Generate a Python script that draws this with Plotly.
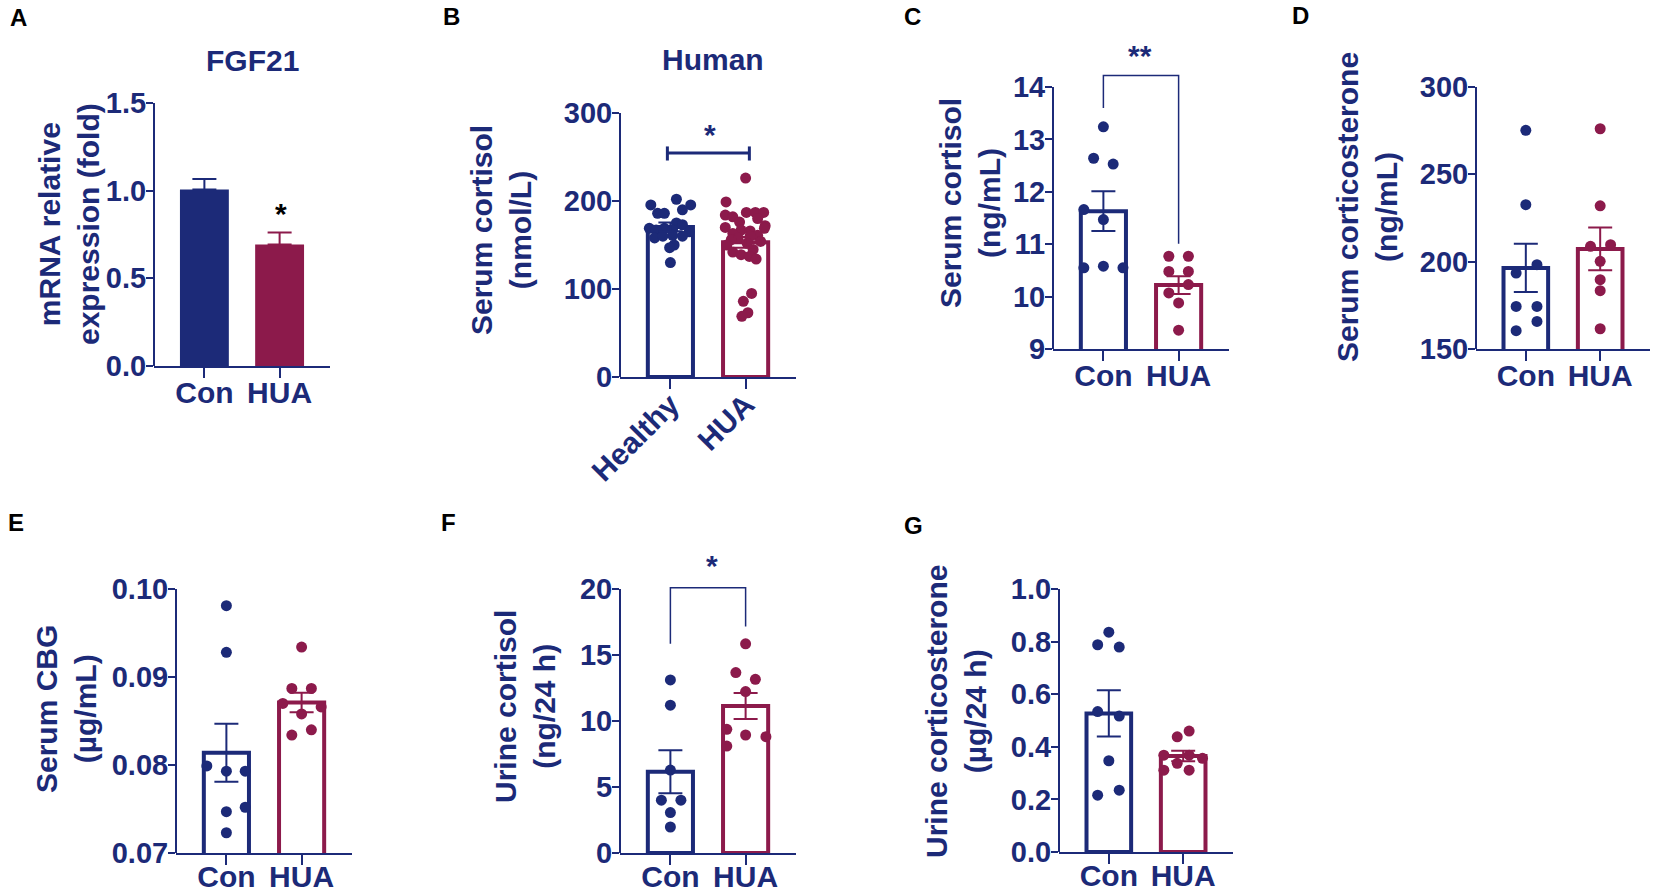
import plotly.graph_objects as go

W, H = 1654, 894
NAVY = "#1c2a78"
CRIMSON = "#8c1a4b"
FONT = "Liberation Sans"

GROUPS = ["Con", "HUA"]
B_GROUPS = ["Healthy", "HUA"]

# A - FGF21 mRNA (bars only)
A_MEAN = [1.006, 0.693]
A_SEM = [0.06, 0.068]

# B - human serum cortisol (nmol/L)
B_MEAN = [170.5, 153]
B_SEM = [5, 6]
B_HEALTHY = [202, 195.5, 195.5, 190, 186, 186, 175, 173, 169, 169,
             167, 167, 165, 161, 160, 158, 160, 150, 147, 130]
B_HEALTHY_JIT = [0.08, -0.26, 0.27, 0.16, -0.17, -0.08, 0.08, 0.16, -0.28, -0.08,
                 -0.19, 0.03, 0.25, 0.03, 0.16, -0.21, -0.10, 0.05, -0.01, 0]
B_HUA = [226, 199, 187, 187, 187, 184, 182, 180, 176, 172,
         170, 169, 167, 166, 163, 161, 160, 158, 156, 154,
         152, 150, 145, 142, 139, 137, 134, 95, 86, 73, 69]
B_HUA_JIT = [0, -0.26, 0.01, 0.13, 0.24, -0.27, -0.17, 0.16, -0.08, 0.26,
             -0.27, 0.25, -0.06, 0.06, -0.17, 0.16, 0.06, -0.10, -0.19, 0.20,
             0.02, -0.25, 0.10, -0.17, -0.06, 0.05, 0.14, 0.08, -0.03, 0.03, -0.05]
B_BRACKET_X = [-0.04, -0.04, None, -0.04, 1.05, None, 1.05, 1.05]
B_BRACKET_Y = [262, 246, None, 254.5, 254.5, None, 262, 246]

# C - serum cortisol (ng/mL)
C_MEAN = [11.63, 10.22]
C_SEM = [0.38, 0.17]
C_CON = [13.24, 12.64, 12.53, 11.66, 11.47, 10.55, 10.58, 10.55]
C_CON_JIT = [0, -0.13, 0.13, -0.26, 0, -0.26, 0, 0.26]
C_HUA = [10.77, 10.77, 10.48, 10.48, 10.23, 10.07, 9.88, 9.36]
C_HUA_JIT = [-0.13, 0.13, -0.13, 0.13, 0.13, -0.13, 0, 0]
C_BRACKET_X = [0, 0, 1, 1]
C_BRACKET_Y = [13.6, 14.22, 14.22, 11.01]

# D - serum corticosterone (ng/mL)
D_MEAN = [196.4, 207.3]
D_SEM = [13.8, 12.2]
D_CON = [275.2, 232.6, 198.3, 193.5, 174.4, 174.4, 165.8, 160.5]
D_CON_JIT = [0, 0, 0.15, -0.13, -0.13, 0.15, 0.15, -0.13]
D_HUA = [276.1, 232.0, 208.8, 209.7, 200.2, 189.7, 183.4, 161.6]
D_HUA_JIT = [0, 0, -0.13, 0.14, 0, 0, 0, 0]

# E - serum CBG (ug/mL)
E_MEAN = [0.0814, 0.0871]
E_SEM = [0.0033, 0.0011]
E_CON = [0.0981, 0.0928, 0.0799, 0.0793, 0.0793, 0.0752, 0.0747, 0.0723]
E_CON_JIT = [0, 0, -0.26, 0, 0.25, 0.25, 0, 0]
E_HUA = [0.0934, 0.0887, 0.0887, 0.0870, 0.0866, 0.0858, 0.0840, 0.0834]
E_HUA_JIT = [0, -0.13, 0.13, -0.25, 0.26, 0, 0.13, -0.13]

# F - urine cortisol (ng/24 h)
F_MEAN = [6.15, 11.14]
F_SEM = [1.63, 0.99]
F_CON = [13.11, 11.2, 6.28, 4.0, 4.0, 3.06, 1.97]
F_CON_JIT = [0, 0, 0, -0.12, 0.14, 0, 0]
F_HUA = [15.85, 13.67, 13.16, 12.23, 9.37, 8.94, 8.81, 8.1]
F_HUA_JIT = [0, -0.13, 0.13, 0, -0.25, 0, 0.27, -0.25]
F_BRACKET_X = [0, 0, 1, 1]
F_BRACKET_Y = [15.85, 20.1, 20.1, 17.16]

# G - urine corticosterone (ug/24 h)
G_MEAN = [0.527, 0.365]
G_SEM = [0.088, 0.02]
G_CON = [0.836, 0.788, 0.779, 0.534, 0.517, 0.347, 0.235, 0.216]
G_CON_JIT = [0, -0.15, 0.14, -0.15, 0.14, 0, 0.14, -0.15]
G_HUA = [0.46, 0.438, 0.368, 0.368, 0.356, 0.337, 0.311, 0.311]
G_HUA_JIT = [0.08, -0.08, -0.26, 0.08, 0.26, -0.08, -0.26, 0.08]

fig = go.Figure()
shapes = []
annotations = []
COLORS = [NAVY, CRIMSON]


def font(size, color=NAVY):
    return dict(family=FONT, size=size, color=color, weight="bold")


def px_x(px):
    return px / W


def px_y(py):
    return 1 - py / H


def label(text, x, y, size=30, color=NAVY, angle=0, yshift=0):
    # centred text on the page (paper coords from pixel positions)
    annotations.append(dict(xref="paper", yref="paper", x=px_x(x), y=px_y(y),
                            text=text, textangle=angle, showarrow=False,
                            xanchor="center", yanchor="middle", yshift=yshift,
                            font=font(size, color)))


def add_panel(n, groups, mean, sem, xpx, ypx, ticks, fmt, rng=None,
              points=None, filled=False, tickangle=0, xstandoff=-11):
    sfx = "" if n == 1 else str(n)
    xa, ya = "x" + sfx, "y" + sfx
    tmin, tmax = ticks[0], ticks[-1]
    rng = rng or [tmin, tmax]
    ppu = (ypx[1] - ypx[0]) / (tmax - tmin)
    top_px = ypx[0] - (rng[1] - tmax) * ppu

    fig.add_trace(go.Bar(
        x=[0, 1], y=mean, width=0.65 if filled else 0.6,
        marker=dict(color=COLORS if filled else "white",
                    line=dict(color=COLORS, width=0 if filled else 4)),
        xaxis=xa, yaxis=ya, showlegend=False, hoverinfo="skip"))

    if points:
        for i, (vals, jit) in enumerate(points):
            fig.add_trace(go.Scatter(
                x=[i + j for j in jit], y=vals, mode="markers",
                marker=dict(size=11, color=COLORS[i]),
                xaxis=xa, yaxis=ya, showlegend=False, hoverinfo="skip"))

    for i in range(2):
        if filled:
            err = dict(type="data", symmetric=False, array=[sem[i]], arrayminus=[0])
        else:
            err = dict(type="data", array=[sem[i]])
        err.update(color=COLORS[i], thickness=2, width=12)
        fig.add_trace(go.Scatter(
            x=[i], y=[mean[i]], mode="markers",
            marker=dict(size=0.1, color=COLORS[i]), error_y=err,
            xaxis=xa, yaxis=ya, showlegend=False, hoverinfo="skip"))

    fig.layout["xaxis" + sfx] = dict(
        domain=[px_x(xpx[0]), px_x(xpx[1])], anchor=ya, automargin=False,
        range=[-0.67, 1.67], tickmode="array", tickvals=[0, 1], ticktext=groups,
        tickangle=tickangle, showline=True, linecolor=NAVY, linewidth=2,
        ticks="outside", ticklen=10, tickwidth=2, tickcolor=NAVY,
        ticklabelstandoff=xstandoff,
        tickfont=font(30), showgrid=False, zeroline=False, fixedrange=True)
    fig.layout["yaxis" + sfx] = dict(
        domain=[px_y(ypx[1]), px_y(top_px)], anchor=xa, automargin=False,
        range=rng, tickmode="array", tickvals=ticks, tickformat=fmt,
        showline=False, ticks="outside", ticklen=7, tickwidth=2, tickcolor=NAVY,
        ticklabelstandoff=-6,
        tickfont=font(29), showgrid=False, zeroline=False, fixedrange=True)

    # y spine stops at the last tick, even when the range has headroom
    shapes.append(dict(type="line", xref=xa + " domain", x0=0, x1=0,
                       yref=ya, y0=tmin, y1=tmax,
                       line=dict(color=NAVY, width=2)))
    return xa, ya


def bracket(xa, ya, bx, by, width):
    fig.add_trace(go.Scatter(x=bx, y=by, mode="lines",
                             line=dict(color=NAVY, width=width),
                             xaxis=xa, yaxis=ya, showlegend=False,
                             hoverinfo="skip"))


# A
add_panel(1, GROUPS, A_MEAN, A_SEM, (154, 330), (103, 366),
          [0, 0.5, 1.0, 1.5], ".1f", filled=True)
label("*", 281, 211, color="black", yshift=-2)

# B
xa, ya = add_panel(2, B_GROUPS, B_MEAN, B_SEM, (620, 796), (113, 377),
                   [0, 100, 200, 300], "d",
                   points=[(B_HEALTHY, B_HEALTHY_JIT), (B_HUA, B_HUA_JIT)],
                   tickangle=-45, xstandoff=-14)
bracket(xa, ya, B_BRACKET_X, B_BRACKET_Y, 3)
label("*", 710, 132, yshift=-2)

# C
xa, ya = add_panel(3, GROUPS, C_MEAN, C_SEM, (1053, 1229), (87, 349),
                   [9, 10, 11, 12, 13, 14], "d", rng=[9, 14.3],
                   points=[(C_CON, C_CON_JIT), (C_HUA, C_HUA_JIT)])
bracket(xa, ya, C_BRACKET_X, C_BRACKET_Y, 1.5)
label("**", 1140, 53, yshift=-2)

# D
add_panel(4, GROUPS, D_MEAN, D_SEM, (1476, 1650), (87, 349),
          [150, 200, 250, 300], "d",
          points=[(D_CON, D_CON_JIT), (D_HUA, D_HUA_JIT)])

# bottom row: labels pulled up a little so they stay inside the page
# E
add_panel(5, GROUPS, E_MEAN, E_SEM, (176, 352), (589, 853),
          [0.07, 0.08, 0.09, 0.10], ".2f",
          points=[(E_CON, E_CON_JIT), (E_HUA, E_HUA_JIT)], xstandoff=-14)

# F
xa, ya = add_panel(6, GROUPS, F_MEAN, F_SEM, (620, 796), (589, 853),
                   [0, 5, 10, 15, 20], "d", rng=[0, 20.3],
                   points=[(F_CON, F_CON_JIT), (F_HUA, F_HUA_JIT)],
                   xstandoff=-14)
bracket(xa, ya, F_BRACKET_X, F_BRACKET_Y, 1.5)
label("*", 712, 563, yshift=-2)

# G
add_panel(7, GROUPS, G_MEAN, G_SEM, (1059, 1233), (589, 852),
          [0, 0.2, 0.4, 0.6, 0.8, 1.0], ".1f",
          points=[(G_CON, G_CON_JIT), (G_HUA, G_HUA_JIT)], xstandoff=-14)

# y-axis titles (two lines, rotated)
Y_TITLES = [
    ("mRNA relative<br>expression (fold)", 69, 224),
    ("Serum cortisol<br>(nmol/L)", 501, 230),
    ("Serum cortisol<br>(ng/mL)", 970, 203),
    ("Serum corticosterone<br>(ng/mL)", 1367, 207),
    ("Serum CBG<br>(µg/mL)", 66, 709),
    ("Urine cortisol<br>(ng/24 h)", 525, 707),
    ("Urine corticosterone<br>(µg/24 h)", 956, 712),
]
for text, x, y in Y_TITLES:
    label(text, x, y, angle=-90)

# panel titles
for text, x, y in [("FGF21", 252, 60), ("Human", 713, 59)]:
    label(text, x, y)

# panel letters
LETTERS = [("A", 18, 18), ("B", 451, 17), ("C", 912, 17), ("D", 1300, 15),
           ("E", 16, 522), ("F", 449, 522), ("G", 913, 525)]
for text, x, y in LETTERS:
    label(text, x, y, size=24, color="black")

fig.update_layout(
    width=W, height=H,
    margin=dict(l=0, r=0, t=0, b=0),
    paper_bgcolor="white", plot_bgcolor="white",
    shapes=shapes, annotations=annotations,
    barmode="overlay", showlegend=False,
)

# the page's default body margin would push the 1654x894 figure off the window
fig.write_html("out.html", config={"displayModeBar": False},
               post_script="document.body.style.margin = '0px';")
